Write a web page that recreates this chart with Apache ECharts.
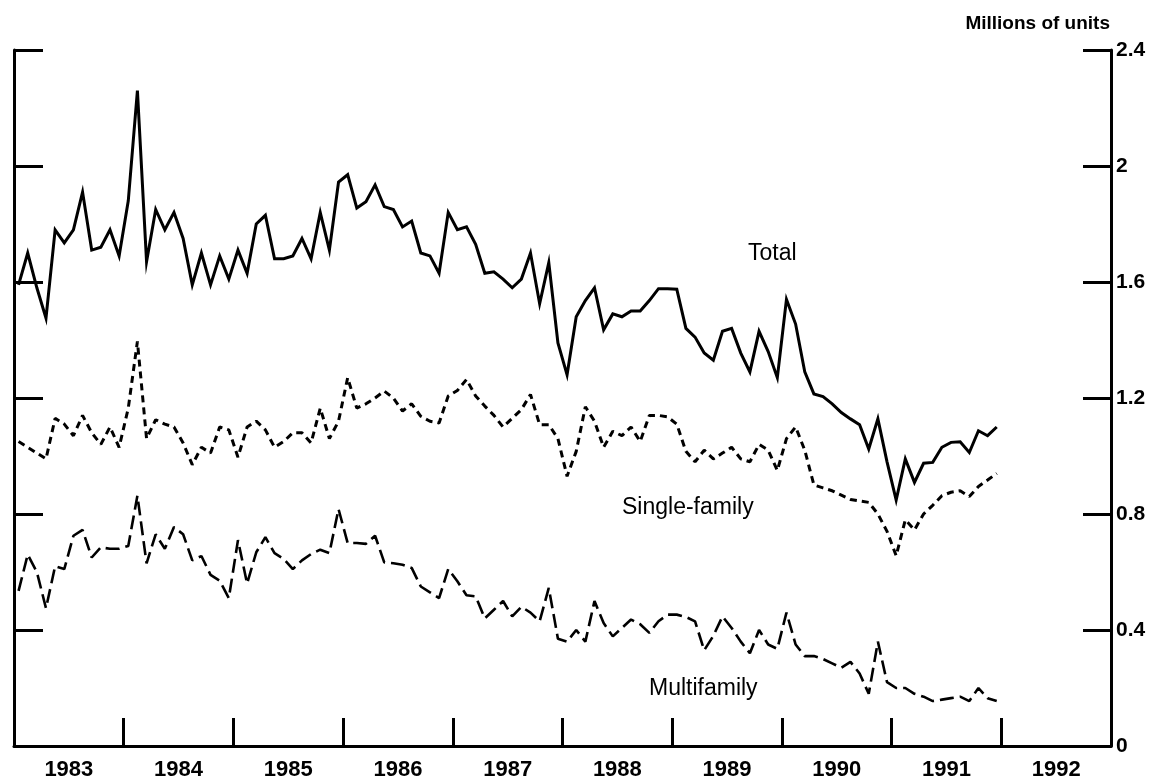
<!DOCTYPE html>
<html><head><meta charset="utf-8">
<script src="https://cdn.jsdelivr.net/npm/echarts@6/dist/echarts.min.js"></script>
<style>html,body{margin:0;padding:0;background:#fff}#c{width:1161px;height:784px}</style>
</head><body><div id="c"></div><script>
// Housing starts, monthly Jan 1983 - Dec 1991, millions of units (annual rate)
const startYear = 1983;
const yearLabels = ['1983','1984','1985','1986','1987','1988','1989','1990','1991','1992'];
const total = [
  1.59,1.70,1.58,1.475,1.78,1.735,1.78,1.91,1.71,1.72,1.78,1.69,
  1.88,2.26,1.67,1.85,1.78,1.84,1.75,1.59,1.70,1.59,1.69,1.61,
  1.71,1.63,1.80,1.83,1.68,1.68,1.69,1.75,1.68,1.84,1.71,1.945,
  1.97,1.855,1.877,1.935,1.86,1.85,1.79,1.81,1.70,1.69,1.63,1.84,
  1.78,1.79,1.73,1.63,1.635,1.61,1.58,1.61,1.70,1.525,1.667,1.39,
  1.28,1.48,1.536,1.58,1.435,1.49,1.48,1.50,1.50,1.536,1.577,1.577,
  1.575,1.44,1.41,1.355,1.33,1.43,1.44,1.355,1.29,1.43,1.36,1.27,
  1.54,1.455,1.29,1.214,1.205,1.18,1.15,1.128,1.108,1.024,1.128,0.98,
  0.848,0.99,0.909,0.975,0.978,1.03,1.047,1.049,1.012,1.087,1.07,1.10
];
const singleFamily = [
  1.05,1.03,1.01,0.99,1.13,1.11,1.07,1.14,1.08,1.04,1.10,1.03,
  1.165,1.395,1.06,1.125,1.11,1.10,1.045,0.97,1.03,1.01,1.10,1.09,
  0.996,1.10,1.12,1.09,1.03,1.05,1.08,1.08,1.045,1.165,1.06,1.12,
  1.27,1.165,1.18,1.20,1.224,1.20,1.155,1.18,1.137,1.12,1.114,1.207,
  1.226,1.264,1.207,1.172,1.14,1.10,1.13,1.16,1.212,1.108,1.108,1.06,
  0.93,1.016,1.17,1.12,1.03,1.085,1.07,1.10,1.05,1.14,1.14,1.135,
  1.11,1.016,0.98,1.02,0.99,1.01,1.03,0.99,0.98,1.04,1.02,0.95,
  1.06,1.10,1.02,0.90,0.89,0.88,0.865,0.85,0.845,0.84,0.80,0.74,
  0.656,0.78,0.745,0.80,0.83,0.863,0.875,0.88,0.86,0.895,0.917,0.94
];
const multifamily = [
  0.535,0.66,0.60,0.475,0.62,0.61,0.725,0.745,0.65,0.685,0.68,0.68,
  0.69,0.863,0.63,0.73,0.68,0.755,0.73,0.64,0.655,0.59,0.57,0.51,
  0.71,0.56,0.668,0.72,0.665,0.645,0.61,0.64,0.662,0.677,0.665,0.817,
  0.70,0.70,0.697,0.725,0.633,0.63,0.625,0.614,0.55,0.53,0.51,0.61,
  0.568,0.52,0.516,0.44,0.47,0.50,0.447,0.48,0.46,0.43,0.545,0.37,
  0.36,0.40,0.36,0.50,0.424,0.378,0.407,0.436,0.42,0.39,0.43,0.453,
  0.453,0.445,0.43,0.33,0.38,0.447,0.407,0.36,0.32,0.40,0.35,0.335,
  0.46,0.35,0.31,0.31,0.30,0.285,0.27,0.29,0.25,0.18,0.36,0.22,
  0.20,0.20,0.18,0.17,0.155,0.16,0.165,0.17,0.155,0.20,0.165,0.155
];
const seriesNames = ['Total','Single-family','Multifamily'];
const unitLabel = 'Millions of units';

const toPoints = arr => arr.map((v, i) => [startYear + (i + 0.5) / 12, v]);
const ink = '#000';
const font = 'Liberation Sans, Arial, Helvetica, sans-serif';

const chart = echarts.init(document.getElementById('c'), null, {renderer: 'canvas'});
chart.setOption({
  backgroundColor: '#fff',
  animation: false,
  grid: {left: 14, right: 50, top: 50, bottom: 38, containLabel: false},
  xAxis: [{
    type: 'value', position: 'bottom', min: 1983, max: 1993, interval: 1,
    axisLine: {show: true, lineStyle: {color: ink, width: 3}},
    axisTick: {show: true, inside: true, length: 28, lineStyle: {color: ink, width: 3}},
    axisLabel: {show: false},
    splitLine: {show: false}
  }, {
    type: 'category', position: 'bottom', data: yearLabels, boundaryGap: true,
    axisLine: {show: false}, axisTick: {show: false}, splitLine: {show: false},
    axisLabel: {show: true, color: ink, fontFamily: font, fontWeight: 'bold', fontSize: 22, margin: 13}
  }],
  yAxis: [{
    type: 'value', position: 'right', min: 0, max: 2.4, interval: 0.4,
    axisLine: {show: true, lineStyle: {color: ink, width: 3}},
    axisTick: {show: true, inside: true, length: 28, lineStyle: {color: ink, width: 3}},
    axisLabel: {show: true, color: ink, fontFamily: font, fontWeight: 'bold', fontSize: 21, margin: 5},
    splitLine: {show: false}
  }, {
    type: 'value', position: 'left', min: 0, max: 2.4, interval: 0.4,
    axisLine: {show: true, lineStyle: {color: ink, width: 3}},
    axisTick: {show: true, inside: true, length: 29, lineStyle: {color: ink, width: 3}},
    axisLabel: {show: false},
    splitLine: {show: false}
  }],
  series: [{
    name: seriesNames[0], type: 'line', xAxisIndex: 0, yAxisIndex: 0,
    data: toPoints(total), showSymbol: false, symbol: 'none',
    lineStyle: {color: ink, width: 3, type: 'solid', join: 'miter'}
  }, {
    name: seriesNames[1], type: 'line', xAxisIndex: 0, yAxisIndex: 0,
    data: toPoints(singleFamily), showSymbol: false, symbol: 'none',
    lineStyle: {color: ink, width: 3, type: [7, 5]}
  }, {
    name: seriesNames[2], type: 'line', xAxisIndex: 0, yAxisIndex: 0,
    data: toPoints(multifamily), showSymbol: false, symbol: 'none',
    lineStyle: {color: ink, width: 2.6, type: [14, 6]}
  }],
  graphic: [
    {type: 'text', right: 51, top: 14, style: {text: unitLabel, fill: ink, font: 'bold 19px ' + font}},
    {type: 'text', left: 748, top: 242, style: {text: seriesNames[0], fill: ink, font: '23px ' + font}},
    {type: 'text', left: 622, top: 496, style: {text: seriesNames[1], fill: ink, font: '23px ' + font}},
    {type: 'text', left: 649, top: 677, style: {text: seriesNames[2], fill: ink, font: '23px ' + font}}
  ]
});
</script></body></html>
